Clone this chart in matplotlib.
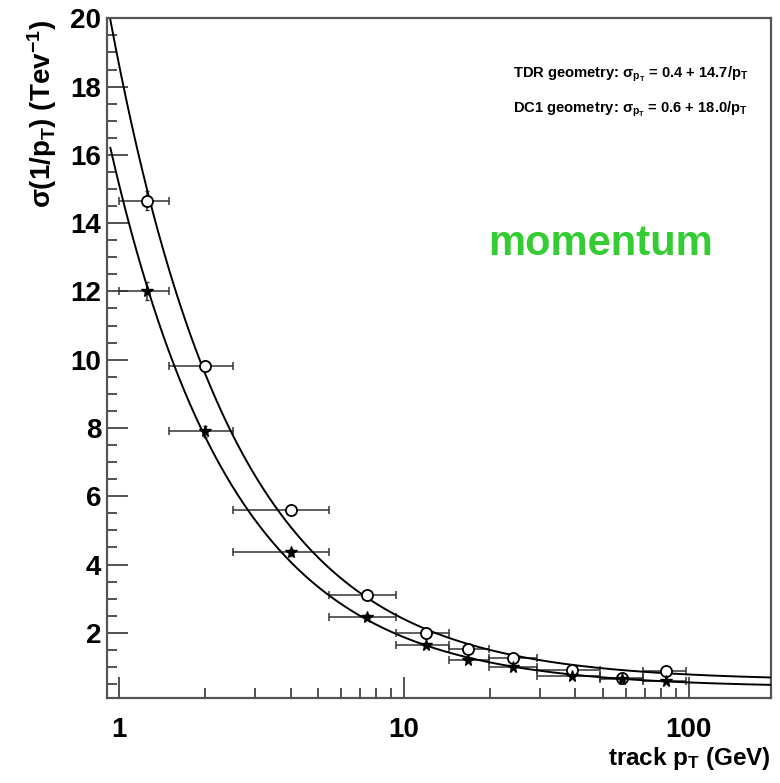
import numpy as np
import matplotlib
matplotlib.use("Agg")
import matplotlib.pyplot as plt
from matplotlib.ticker import MultipleLocator, FixedLocator, NullFormatter, FuncFormatter

plt.rcParams['font.family'] = ['Liberation Sans', 'DejaVu Sans']
plt.rcParams['font.weight'] = 'bold'
plt.rcParams['mathtext.fontset'] = 'custom'
plt.rcParams['mathtext.rm'] = 'Liberation Sans:bold'
plt.rcParams['mathtext.it'] = 'Liberation Sans:bold'
plt.rcParams['mathtext.bf'] = 'Liberation Sans:bold'
plt.rcParams['mathtext.sf'] = 'Liberation Sans:bold'

# pT bins (GeV)
pt_centre = [1.25, 2.0, 4.0, 7.4, 11.9, 16.8, 24.2, 38.8, 58.4, 83.2]
pt_lo = [1.0, 1.5, 2.5, 5.45, 9.4, 14.4, 19.8, 29.2, 48.8, 68.9]
pt_hi = [1.5, 2.5, 5.45, 9.4, 14.4, 19.8, 29.2, 48.8, 68.9, 98.0]

# DC1 geometry (open circles)
sigma_dc1 = [14.66, 9.82, 5.60, 3.11, 1.99, 1.52, 1.26, 0.92, 0.69, 0.87]
err_dc1 = [0.28, 0.15, 0.10, 0.08, 0.06, 0.05, 0.04, 0.03, 0.03, 0.03]
# TDR geometry (stars)
sigma_tdr = [12.02, 7.90, 4.36, 2.46, 1.64, 1.21, 1.01, 0.74, 0.64, 0.59]
err_tdr = [0.27, 0.15, 0.10, 0.08, 0.06, 0.05, 0.04, 0.03, 0.03, 0.03]

# fit parameters a + b/pT
fit_tdr = [0.4, 14.7]
fit_dc1 = [0.6, 18.0]

W, H = 780, 783
fig = plt.figure(figsize=(W / 100, H / 100), dpi=100)
ax = fig.add_axes([106.7 / W, 1 - 697.7 / H, (770.7 - 106.7) / W, (697.7 - 18.3) / H])

xc = np.array(pt_centre)
xerr = [xc - np.array(pt_lo), np.array(pt_hi) - xc]

pt_curve = np.geomspace(0.93, 194, 500)
for a, b in (fit_dc1, fit_tdr):
    ax.plot(pt_curve, a + b / pt_curve, color='black', lw=1.4, zorder=3)

for sig, err in ((sigma_dc1, err_dc1), (sigma_tdr, err_tdr)):
    ax.errorbar(xc, sig, xerr=xerr, fmt='none', ecolor='#333333',
                elinewidth=1.1, capsize=3, capthick=1.1, zorder=2)
    ax.errorbar(xc, sig, yerr=err, fmt='none', ecolor='#333333',
                elinewidth=1.1, capsize=1.5, capthick=1.0, zorder=2)
ax.plot(xc, sigma_dc1, 'o', ms=8, mfc='white', mec='black', mew=1.3, zorder=4)
ax.plot(xc, sigma_tdr, '*', ms=8.5, color='black', zorder=4)

ax.set_xscale('log')
ax.set_xlim(0.903, 194)
ax.set_ylim(0.1, 20)

ax.xaxis.set_major_locator(FixedLocator([1, 10, 100]))
ax.xaxis.set_major_formatter(FuncFormatter(lambda v, p: '%d' % v))
minors = [m * 10 ** k for k in range(-1, 3) for m in range(2, 10)]
ax.xaxis.set_minor_locator(FixedLocator(minors))
ax.xaxis.set_minor_formatter(NullFormatter())
ax.yaxis.set_major_locator(MultipleLocator(2))
ax.yaxis.set_minor_locator(MultipleLocator(0.5))
ax.yaxis.set_major_formatter(FuncFormatter(lambda v, p: '%d' % v if v > 0 else ''))

ax.tick_params(which='both', direction='in', top=False, right=False, color='#333333', width=1.2)
ax.tick_params(which='major', length=15, labelsize=20)
ax.tick_params(axis='x', which='major', pad=14)
ax.tick_params(axis='y', which='major', pad=4)
ax.tick_params(which='minor', length=7.5)
for lab in ax.get_xticklabels() + ax.get_yticklabels():
    lab.set_fontweight('bold')
for s in ax.spines.values():
    s.set_color('#555555')
    s.set_linewidth(1.6)

fig.text(42 / W, 1 - 20 / H, r'$\sigma$(1/$p_T$) (Tev$^{-1}$)', rotation=90,
         ha='center', va='top', fontsize=20)
fig.text(771 / W, 1 - 765 / H, r'track $p_T$ (GeV)', ha='right', va='baseline', fontsize=17.5)

fig.text(513 / W, 1 - 78 / H, r'TDR geometry: $\sigma_{p_T}$ = 0.4 + 14.7/$p_T$',
         fontsize=10.6, va='baseline')
fig.text(513 / W, 1 - 113 / H, r'DC1 geometry: $\sigma_{p_T}$ = 0.6 + 18.0/$p_T$',
         fontsize=10.6, va='baseline')
fig.text(488 / W, 1 - 255 / H, 'momentum', color='#33cc33', fontsize=30,
         fontweight='bold', va='baseline')

fig.savefig('out.png', dpi=100)
